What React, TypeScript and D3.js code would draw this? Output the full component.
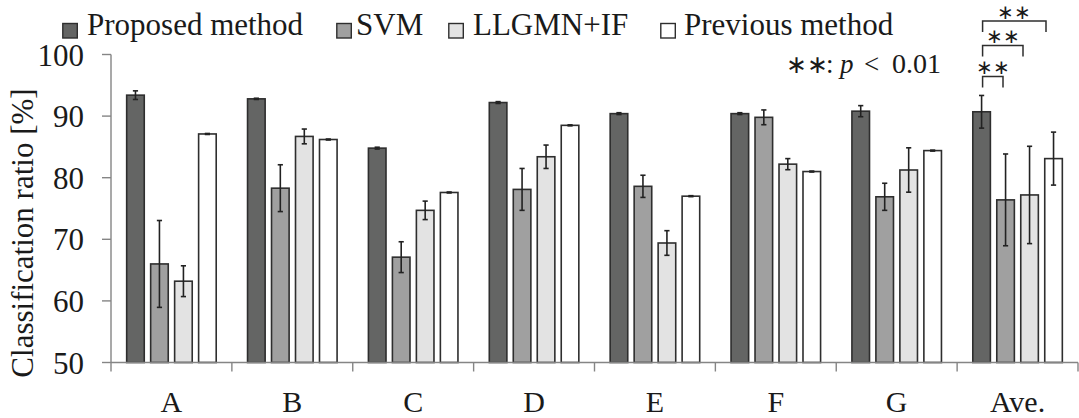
import React from "react";
import * as d3 from "d3";

const categories = ["A", "B", "C", "D", "E", "F", "G", "Ave."];
const seriesNames = ["Proposed method", "SVM", "LLGMN+IF", "Previous method"];
const proposed = [93.4, 92.8, 84.8, 92.2, 90.4, 90.4, 90.8, 90.7];
const proposedErr = [0.7, 0.1, 0.15, 0.15, 0.15, 0.15, 0.9, 2.65];
const svm = [66.0, 78.3, 67.1, 78.1, 78.6, 89.8, 76.9, 76.4];
const svmErr = [7.05, 3.8, 2.5, 3.4, 1.8, 1.2, 2.2, 7.45];
const llgmn = [63.2, 86.7, 74.7, 83.4, 69.4, 82.2, 81.25, 77.2];
const llgmnErr = [2.5, 1.2, 1.5, 1.9, 2.0, 0.9, 3.6, 7.9];
const previous = [87.1, 86.2, 77.6, 88.5, 77.0, 81.0, 84.4, 83.1];
const previousErr = [0.08, 0.08, 0.08, 0.08, 0.08, 0.08, 0.08, 4.3];
const yTicks = [50, 60, 70, 80, 90, 100];
const significance = [
  { from: 0, to: 1, label: "∗∗" },
  { from: 0, to: 2, label: "∗∗" },
  { from: 0, to: 3, label: "∗∗" },
];

const values = [proposed, svm, llgmn, previous];
const errors = [proposedErr, svmErr, llgmnErr, previousErr];
const fills = ["#646564", "#a0a0a0", "#e3e3e3", "#ffffff"];

const W = 1079;
const H = 418;
const left = 111;
const right = 1078;
const top = 54.5;
const bottom = 362.5;
const serif = "Liberation Serif";

export default function App() {
  const x0 = d3.scaleBand<string>().domain(categories).range([left, right]).paddingInner(0).paddingOuter(0);
  const x1 = d3
    .scaleBand<string>()
    .domain(seriesNames)
    .range([0, x0.bandwidth()])
    .paddingInner(0.2)
    .paddingOuter(0.62);
  const y = d3.scaleLinear().domain([50, 100]).range([bottom, top]);
  const bw = x1.bandwidth();
  const sw = 1.6;
  const cap = 2.6;

  const boundaries = [...categories.map((c) => x0(c)!), right];

  const legendText = [87, 356, 473, 684];
  const legendBox = [62, 336, 448, 660];

  const aveX = x0("Ave.")!;
  const barCenter = (s: number) => aveX + x1(seriesNames[s])! + bw / 2;
  const bracketY = [76.5, 45.5, 21];
  const bracketEnd = [1003, 1023, 1046];

  const textStyle = { fontFamily: serif };

  return (
    <svg width={W} height={H} style={{ display: "block", position: "absolute", left: 0, top: 0 }}>
      <rect x={0} y={0} width={W} height={H} fill="#fff" />
      {categories.map((c, ci) => (
        <g key={c}>
          {seriesNames.map((s, si) => {
            const v = values[si][ci];
            const bx = x0(c)! + x1(s)!;
            return (
              <rect
                key={s}
                x={bx + sw / 2}
                y={y(v)}
                width={bw - sw}
                height={bottom - y(v)}
                fill={fills[si]}
                stroke="#2e2e2e"
                strokeWidth={sw}
              />
            );
          })}
        </g>
      ))}
      {categories.map((c, ci) => (
        <g key={"e" + c} stroke="#222" strokeWidth={1.6}>
          {seriesNames.map((s, si) => {
            const v = values[si][ci];
            const e = errors[si][ci];
            const cx = x0(c)! + x1(s)! + bw / 2;
            return (
              <g key={s}>
                <line x1={cx} x2={cx} y1={y(v + e)} y2={y(v - e)} />
                <line x1={cx - cap} x2={cx + cap} y1={y(v + e)} y2={y(v + e)} />
                <line x1={cx - cap} x2={cx + cap} y1={y(v - e)} y2={y(v - e)} />
              </g>
            );
          })}
        </g>
      ))}
      <g stroke="#858585" strokeWidth={1.4}>
        <line x1={left} x2={left} y1={top} y2={bottom} />
        <line x1={left} x2={right} y1={bottom} y2={bottom} />
        {yTicks.map((t) => (
          <line key={t} x1={left - 9} x2={left} y1={y(t)} y2={y(t)} />
        ))}
        {boundaries.map((b, i) => (
          <line key={i} x1={b} x2={b} y1={bottom} y2={bottom + 9} />
        ))}
      </g>
      {yTicks.map((t) => (
        <text key={t} x={84} y={y(t) + 11} textAnchor="end" style={textStyle} fontSize={31} fill="#1a1a1a">
          {t}
        </text>
      ))}
      {categories.map((c) => (
        <text
          key={c}
          x={x0(c)! + x0.bandwidth() / 2}
          y={412}
          textAnchor="middle"
          style={textStyle}
          fontSize={30}
          fill="#1a1a1a"
        >
          {c}
        </text>
      ))}
      <text
        transform={`translate(33,233) rotate(-90)`}
        textAnchor="middle"
        style={textStyle}
        fontSize={31}
        fill="#1a1a1a"
      >
        Classification ratio [%]
      </text>
      {seriesNames.map((s, i) => (
        <g key={s}>
          <rect
            x={legendBox[i] + 0.8}
            y={23.5}
            width={14.5}
            height={14.5}
            fill={fills[i]}
            stroke="#2e2e2e"
            strokeWidth={1.4}
          />
          <text x={legendText[i]} y={34.5} style={textStyle} fontSize={31} fill="#1a1a1a">
            {s}
          </text>
        </g>
      ))}
      <text y={73} style={textStyle} fontSize={27} fill="#1a1a1a">
        <tspan x={786} fontSize={25}>∗∗</tspan>
        <tspan x={826}>:</tspan>
        <tspan x={840} fontStyle="italic">p</tspan>
        <tspan x={864}>&lt;</tspan>
        <tspan x={892} fontSize={28}>0.01</tspan>
      </text>
      {significance.map((sg, i) => {
        const xa = barCenter(sg.from) + 1;
        const xb = bracketEnd[i];
        const by = bracketY[i];
        return (
          <g key={i}>
            <path
              d={`M${xa},${by + 11} V${by} H${xb} V${by + 11}`}
              fill="none"
              stroke="#2e2e2e"
              strokeWidth={1.5}
            />
            <text x={(xa + xb) / 2} y={by - 2.5} textAnchor="middle" style={textStyle} fontSize={20} fill="#1a1a1a">
              {sg.label}
            </text>
          </g>
        );
      })}
    </svg>
  );
}
